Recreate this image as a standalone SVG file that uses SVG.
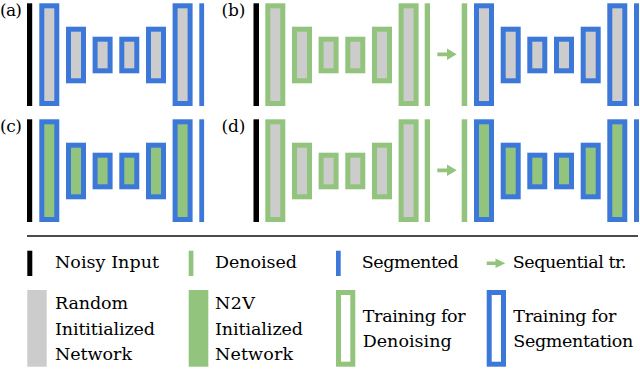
<svg xmlns="http://www.w3.org/2000/svg" width="640" height="372" viewBox="0 0 640 372">
<style>
  text { font-family: "DejaVu Serif", "Liberation Serif", serif; font-size: 17.5px; fill: #000; }
  .lbl { font-size: 17px; }
  .blk { fill: #000; }
  .seg { fill: #3c78d8; }
  .den { fill: #93c47d; }
  .gray { fill: #cccccc; }
  .netBG rect { fill: #93c47d; stroke: #3c78d8; stroke-width: 5; }
  .netGY rect { fill: #cccccc; stroke: #93c47d; stroke-width: 5; }
  .netBY rect { fill: #cccccc; stroke: #3c78d8; stroke-width: 5; }
  .arrow { fill: #93c47d; }
</style>

<!-- Panel labels -->
<text class="lbl" x="0" y="16" textLength="22">(a)</text>
<text class="lbl" x="221.5" y="16" textLength="24">(b)</text>
<text class="lbl" x="0" y="132" textLength="22">(c)</text>
<text class="lbl" x="221.5" y="132" textLength="24">(d)</text>

<!-- Panel (a) -->
<g id="a-input"><rect class="blk" x="27" y="3.3" width="5.2" height="102.7"/></g>
<g id="a-net" class="netBY" transform="translate(39.3,0)">
  <rect x="2.5" y="5.8" width="15" height="97.7"/>
  <rect x="29.2" y="29.2" width="15" height="51.6"/>
  <rect x="55.8" y="39.2" width="15" height="31.6"/>
  <rect x="82.5" y="39.2" width="15" height="31.6"/>
  <rect x="109.2" y="29.2" width="15" height="51.6"/>
  <rect x="135.8" y="5.8" width="15" height="97.7"/>
</g>
<g id="a-output"><rect class="seg" x="199.3" y="3.3" width="4.8" height="102.7"/></g>

<!-- Panel (b) -->
<g id="b-input"><rect class="blk" x="253.5" y="3.3" width="5.5" height="102.7"/></g>
<g id="b-net1" class="netGY" transform="translate(265.3,0)">
  <rect x="2.5" y="5.8" width="15" height="97.7"/>
  <rect x="29.2" y="29.2" width="15" height="51.6"/>
  <rect x="55.8" y="39.2" width="15" height="31.6"/>
  <rect x="82.5" y="39.2" width="15" height="31.6"/>
  <rect x="109.2" y="29.2" width="15" height="51.6"/>
  <rect x="135.8" y="5.8" width="15" height="97.7"/>
</g>
<g id="b-denoised"><rect class="den" x="424.7" y="3.3" width="5.3" height="102.7"/></g>
<g id="b-denoised2"><rect class="den" x="461.7" y="3.3" width="5.5" height="102.7"/></g>
<g id="b-net2" class="netBY" transform="translate(474,0)">
  <rect x="2.5" y="5.8" width="15" height="97.7"/>
  <rect x="29.2" y="29.2" width="15" height="51.6"/>
  <rect x="55.8" y="39.2" width="15" height="31.6"/>
  <rect x="82.5" y="39.2" width="15" height="31.6"/>
  <rect x="109.2" y="29.2" width="15" height="51.6"/>
  <rect x="135.8" y="5.8" width="15" height="97.7"/>
</g>
<g id="b-output"><rect class="seg" x="634" y="3.3" width="5" height="102.7"/></g>

<!-- Panel (c) -->
<g id="c-input"><rect class="blk" x="27" y="119.3" width="5.2" height="102.7"/></g>
<g id="c-net" class="netBG" transform="translate(39.3,116)">
  <rect x="2.5" y="5.8" width="15" height="97.7"/>
  <rect x="29.2" y="29.2" width="15" height="51.6"/>
  <rect x="55.8" y="39.2" width="15" height="31.6"/>
  <rect x="82.5" y="39.2" width="15" height="31.6"/>
  <rect x="109.2" y="29.2" width="15" height="51.6"/>
  <rect x="135.8" y="5.8" width="15" height="97.7"/>
</g>
<g id="c-output"><rect class="seg" x="199.3" y="119.3" width="4.8" height="102.7"/></g>

<!-- Panel (d) -->
<g id="d-input"><rect class="blk" x="253.5" y="119.3" width="5.5" height="102.7"/></g>
<g id="d-net1" class="netGY" transform="translate(265.3,116)">
  <rect x="2.5" y="5.8" width="15" height="97.7"/>
  <rect x="29.2" y="29.2" width="15" height="51.6"/>
  <rect x="55.8" y="39.2" width="15" height="31.6"/>
  <rect x="82.5" y="39.2" width="15" height="31.6"/>
  <rect x="109.2" y="29.2" width="15" height="51.6"/>
  <rect x="135.8" y="5.8" width="15" height="97.7"/>
</g>
<g id="d-denoised"><rect class="den" x="424.7" y="119.3" width="5.3" height="102.7"/></g>
<g id="d-denoised2"><rect class="den" x="461.7" y="119.3" width="5.5" height="102.7"/></g>
<g id="d-net2" class="netBG" transform="translate(474,116)">
  <rect x="2.5" y="5.8" width="15" height="97.7"/>
  <rect x="29.2" y="29.2" width="15" height="51.6"/>
  <rect x="55.8" y="39.2" width="15" height="31.6"/>
  <rect x="82.5" y="39.2" width="15" height="31.6"/>
  <rect x="109.2" y="29.2" width="15" height="51.6"/>
  <rect x="135.8" y="5.8" width="15" height="97.7"/>
</g>
<g id="d-output"><rect class="seg" x="634" y="119.3" width="5" height="102.7"/></g>

<!-- Connectors -->
<g id="connectors">
  <path class="arrow" d="M437.3,52.4 H447 V48.5 L456.7,54.3 L447,60.1 V56.2 H437.3 Z"/>
  <path class="arrow" d="M437.3,168.4 H447 V164.5 L456.7,170.3 L447,176.1 V172.2 H437.3 Z"/>
</g>

<!-- Legend -->
<g id="legend">
  <line x1="27" y1="236" x2="638" y2="236" stroke="#111" stroke-width="1.3"/>

  <rect class="blk" x="27.3" y="250.7" width="5" height="25.3"/>
  <text x="55" y="268.3" textLength="104">Noisy Input</text>

  <rect class="den" x="188.7" y="250.7" width="4.7" height="25.3"/>
  <text x="215" y="268.3" textLength="82">Denoised</text>

  <rect class="seg" x="336" y="250.7" width="4.7" height="25.3"/>
  <text x="361.7" y="268.3" textLength="97">Segmented</text>

  <path class="arrow" d="M486.7,261.6 H495.5 V258.6 L505.3,263.3 L495.5,268 V265 H486.7 Z"/>
  <text x="512.7" y="268.3" textLength="114">Sequential tr.</text>

  <rect class="gray" x="27.3" y="290" width="19.4" height="76.7"/>
  <text x="55" y="309.3" textLength="73">Random</text>
  <text x="55" y="335" textLength="100">Inititialized</text>
  <text x="55" y="360.3" textLength="77">Network</text>

  <rect class="den" x="188.7" y="290" width="19.6" height="76.7"/>
  <text x="215" y="309.3" textLength="40">N2V</text>
  <text x="215" y="335" textLength="88">Initialized</text>
  <text x="215" y="360.3" textLength="78">Network</text>

  <rect x="338.5" y="292.5" width="14.3" height="71.7" fill="none" stroke="#93c47d" stroke-width="5"/>
  <text x="362.7" y="321.7" textLength="103">Training for</text>
  <text x="362.7" y="346.7" textLength="89">Denoising</text>

  <rect x="489.2" y="292.5" width="14.3" height="71.7" fill="none" stroke="#3c78d8" stroke-width="5"/>
  <text x="513.3" y="321.7" textLength="103">Training for</text>
  <text x="513.3" y="346.7" textLength="120">Segmentation</text>
</g>
</svg>
